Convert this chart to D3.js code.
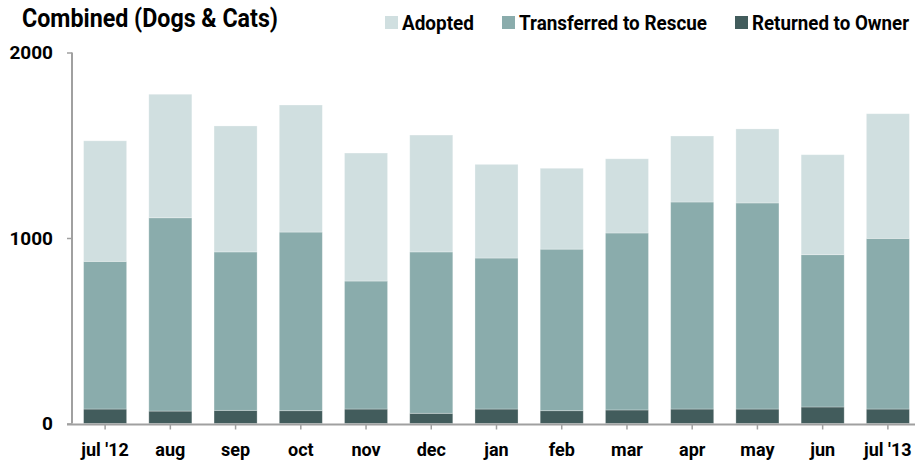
<!DOCTYPE html>
<html><head><meta charset="utf-8">
<script src="https://cdn.jsdelivr.net/npm/d3@7"></script>
<style>
body{margin:0;background:#fff;}
text{font-family:Roboto,"Liberation Sans",sans-serif;fill:#000;}
</style></head>
<body>
<svg id="chart" width="915" height="464"></svg>
<script>
const months = ["jul '12","aug","sep","oct","nov","dec","jan","feb","mar","apr","may","jun","jul '13"];
const returnedToOwner = [78,67,71,69,78,55,78,69,73,78,78,89,78];
const transferredToRescue = [796,1042,854,963,690,870,814,871,954,1116,1111,821,920];
const adopted = [650,666,679,685,690,630,505,436,400,356,399,539,672];
const seriesNames = ["Returned to Owner","Transferred to Rescue","Adopted"];
const seriesColors = ["#425c5c","#8aacac","#d0dfe0"];
const yTicks = [0,1000,2000];
const legendOrder = ["Adopted","Transferred to Rescue","Returned to Owner"];

const svg = d3.select("#chart");
const table = months.map((m,i)=>({month:m,"Returned to Owner":returnedToOwner[i],"Transferred to Rescue":transferredToRescue[i],"Adopted":adopted[i]}));
const stack = d3.stack().keys(seriesNames)(table);

const x = d3.scaleBand().domain(months).range([72.5,920.5]).paddingInner(0.34).paddingOuter(0.17);
const y = d3.scaleLinear().domain([0,2000]).range([423.5,52.5]);
const color = d3.scaleOrdinal().domain(seriesNames).range(seriesColors);

svg.append("g").selectAll("g").data(stack).join("g")
  .attr("fill",d=>color(d.key))
  .selectAll("rect").data(d=>d).join("rect")
  .attr("x",d=>x(d.data.month))
  .attr("width",x.bandwidth())
  .attr("y",d=>y(d[1]))
  .attr("height",d=>y(d[0])-y(d[1]))
  .attr("stroke","rgba(255,255,255,0.35)").attr("stroke-width",0.8);

// y axis
const ya = svg.append("g").attr("transform","translate(72,0)")
  .call(d3.axisLeft(y).tickValues(yTicks).tickSize(5).tickPadding(14).tickFormat(d3.format("d")));
ya.select(".domain").attr("stroke","#a0a0a0").attr("stroke-width",2).attr("d","M0,52.5V423.5");
ya.selectAll(".tick line").attr("stroke","#a0a0a0").attr("stroke-width",1.5);
ya.selectAll("text").style("font-size","19px").style("font-weight","bold").attr("fill","#000");

// x axis
const xa = svg.append("g").attr("transform","translate(0,424.5)")
  .call(d3.axisBottom(x).tickSize(5).tickPadding(13.5));
xa.select(".domain").attr("stroke","#a0a0a0").attr("stroke-width",2).attr("d","M67,0H915");
xa.selectAll(".tick line").attr("stroke","#a0a0a0").attr("stroke-width",1.5);
xa.selectAll("text").style("font-size","18px").style("font-weight","bold").attr("fill","#000");

// title
svg.append("text").attr("x",22).attr("y",27).text("Combined (Dogs & Cats)")
  .style("font-size","26px").style("font-weight","bold")
  .attr("textLength",256).attr("lengthAdjust","spacingAndGlyphs");

// legend
const legX = [385,502,735];
const legW = [72,188,157];
const lg = svg.append("g");
legendOrder.forEach((n,i)=>{
  lg.append("rect").attr("x",legX[i]).attr("y",16).attr("width",13).attr("height",13).attr("fill",color(n));
  lg.append("text").attr("x",legX[i]+17).attr("y",29.5).text(n).style("font-size",i===2?"19.5px":"20px").style("font-weight","bold")
    .attr("textLength",legW[i]).attr("lengthAdjust","spacingAndGlyphs");
});
</script>
</body></html>
